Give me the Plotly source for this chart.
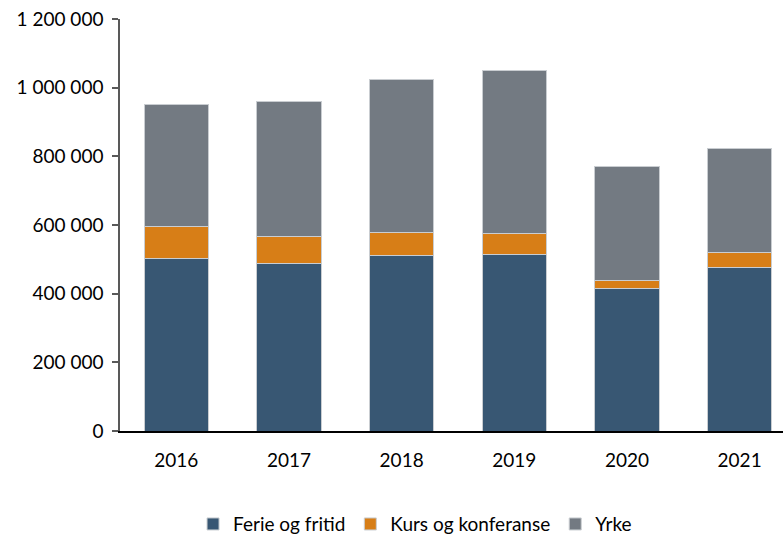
import plotly.graph_objects as go

# Values (number of guest nights, rough)
years = ["2016", "2017", "2018", "2019", "2020", "2021"]
ferie = [502000, 487000, 511000, 513000, 414000, 477000]
kurs = [93000, 79000, 67000, 63000, 24000, 42000]
yrke = [357000, 395000, 445000, 474000, 333000, 304000]

series = [
    ("Ferie og fritid", ferie, "#385773"),
    ("Kurs og konferanse", kurs, "#D77E17"),
    ("Yrke", yrke, "#737A82"),
]

font = "Lato, Carlito, Calibri, sans-serif"

fig = go.Figure()
for name, vals, col in series:
    fig.add_trace(go.Bar(
        x=years, y=vals, name=name,
        marker=dict(color=col, line=dict(color="#C9CDD1", width=1)),
    ))

fig.update_layout(
    barmode="stack",
    bargap=0.43,
    width=783, height=535,
    # legend sits on the bottom edge (clipped like the original), so no autoexpand
    margin=dict(l=120, r=0, t=19, b=104, autoexpand=False),
    plot_bgcolor="white", paper_bgcolor="white",
    separators=", ",
    font=dict(family=font, size=19, color="black"),
    showlegend=True,
    legend=dict(
        orientation="h", x=0.445, xanchor="center", y=-0.226, yanchor="middle",
        font=dict(size=19), traceorder="normal",
    ),
)
fig.update_yaxes(
    range=[0, 1200000], dtick=200000, tickformat=",d",
    showgrid=False, zeroline=False,
    showline=True, linecolor="#595959", linewidth=1.5,
    ticks="outside", ticklen=6, tickcolor="#595959", tickwidth=1.5,
    ticklabelstandoff=5,
)
fig.update_xaxes(
    range=[-0.5, 5.385],
    showline=True, linecolor="black", linewidth=2,
    ticks="", ticklabelstandoff=11,
)

# drop the default 8px body margin so the figure fills the window
fig.write_html("out.html", config={"displayModeBar": False},
               post_script="document.body.style.margin='0';")
